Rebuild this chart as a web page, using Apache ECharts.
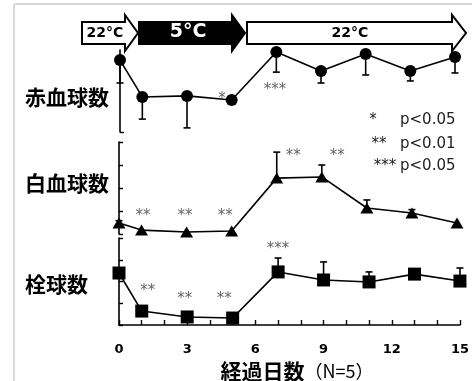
<!DOCTYPE html>
<html><head><meta charset="utf-8">
<script src="https://cdn.jsdelivr.net/npm/echarts@6/dist/echarts.min.js"></script>
<style>html,body{margin:0;padding:0;background:#fff}#c{width:472px;height:381px}</style>
</head><body><div id="c"></div>
<script>
// ---- data ----
var days = [0, 1, 3, 5, 7, 9, 11, 13, 15];
var xTickLabels = [0, 3, 6, 9, 12, 15];
var rbcValues = [3.51, 1.71, 1.76, 1.56, 3.90, 2.98, 3.80, 2.98, 3.66];
var rbcErrors = [1.12, 1.08, 1.56, 0.10, 0.98, 0.59, 1.02, 0.49, 0.78];   // drawn downward
var wbcValues = [0.48, 0.17, 0.09, 0.13, 2.43, 2.48, 1.13, 0.91, 0.48];
var wbcErrors = [0.10, 0.00, 0.00, 0.00, 1.13, 0.52, 0.35, 0.15, 0.00];   // drawn upward
var pltValues = [2.39, 0.64, 0.37, 0.32, 2.44, 2.07, 1.98, 2.34, 2.02];
var pltErrors = [0.00, 0.10, 0.00, 0.00, 0.64, 0.83, 0.46, 0.00, 0.60];   // drawn upward
var rbcMarks = [{x: 4.57, y: 1.61, t: '*'}, {x: 6.94, y: 2.05, t: '***'}];
var wbcMarks = [{x: 1.07, y: 0.78, t: '**'}, {x: 2.93, y: 0.78, t: '**'}, {x: 4.71, y: 0.78, t: '**'},
                {x: 7.73, y: 3.39, t: '**'}, {x: 9.69, y: 3.39, t: '**'}];
var pltMarks = [{x: 1.27, y: 1.56, t: '**'}, {x: 2.89, y: 1.2, t: '**'}, {x: 4.63, y: 1.2, t: '**'},
                {x: 7.0, y: 3.49, t: '***'}];
var panelTitles = ['赤血球数', '白血球数', '栓球数'];
var phaseLabels = ['22°C', '5°C', '22°C'];
var legendStars = ['*', '**', '***'];
var legendTexts = ['p<0.05', 'p<0.01', 'p<0.05'];

function pairs(vals){ return days.map(function(d,i){ return [d, vals[i]]; }); }
function errData(vals, errs){ return days.map(function(d,i){ return [d, vals[i], errs[i]]; }); }

function errRender(dir){
  return function(params, api){
    var x = api.value(0), y = api.value(1), e = api.value(2);
    if (!e) return null;
    var p0 = api.coord([x, y]);
    var p1 = api.coord([x, y + dir * e]);
    var hw = 3.5;
    return {type: 'group', children: [
      {type: 'line', shape: {x1: p0[0], y1: p0[1], x2: p1[0], y2: p1[1]}, style: {stroke: '#000', lineWidth: 1.6}},
      {type: 'line', shape: {x1: p1[0]-hw, y1: p1[1], x2: p1[0]+hw, y2: p1[1]}, style: {stroke: '#000', lineWidth: 1.6}}
    ]};
  };
}
function markRender(arr){
  return function(params, api){
    var p = api.coord([api.value(0), api.value(1)]);
    return {type: 'text', x: p[0], y: p[1], style: {text: arr[params.dataIndex].t, fill: '#666',
      font: '15px "DejaVu Sans"', align: 'center', verticalAlign: 'middle'}};
  };
}

var grids = [
  {left: 120, width: 335, top: 50, height: 82},
  {left: 119, width: 338, top: 142, height: 92},
  {left: 119, width: 343, top: 238, height: 87}
];
var axLine = {show: true, lineStyle: {color: '#000', width: 1.6}};
var xAxes = [0,1,2].map(function(i){
  var base = {gridIndex: i, type: 'value', min: 0, max: 15, interval: 1, splitLine: {show: false}};
  if (i < 2) { base.show = false; return base; }
  base.axisLine = axLine;
  base.axisTick = {show: true, inside: true, length: 5, lineStyle: {color: '#000', width: 1.4}};
  base.axisLabel = {show: true, customValues: xTickLabels, margin: 18, color: '#000',
    fontFamily: 'DejaVu Sans', fontWeight: 'bold', fontSize: 13};
  return base;
});
var yAxes = [0,1,2].map(function(i){
  var a = {gridIndex: i, type: 'value', min: 0, max: 4, interval: 1, axisLine: axLine,
    axisLabel: {show: false}, splitLine: {show: false},
    axisTick: {show: true, inside: true, length: 4, lineStyle: {color: '#000', width: 1.4}}};
  if (i === 0) a.axisTick.customValues = [0];
  return a;
});

var sets = [
  {v: rbcValues, e: rbcErrors, dir: -1, sym: 'circle', size: 12, marks: rbcMarks},
  {v: wbcValues, e: wbcErrors, dir: 1, sym: 'triangle', size: [13, 11], marks: wbcMarks},
  {v: pltValues, e: pltErrors, dir: 1, sym: 'rect', size: 13, marks: pltMarks}
];
var series = [];
sets.forEach(function(s, i){
  series.push({type: 'custom', xAxisIndex: i, yAxisIndex: i, renderItem: errRender(s.dir),
    data: errData(s.v, s.e), clip: false, z: 1});
  series.push({type: 'line', xAxisIndex: i, yAxisIndex: i, data: pairs(s.v), symbol: s.sym,
    symbolSize: s.size, showSymbol: true, color: '#000', itemStyle: {color: '#000'},
    lineStyle: {color: '#000', width: 1.6}, z: 3});
  series.push({type: 'custom', xAxisIndex: i, yAxisIndex: i, renderItem: markRender(s.marks),
    data: s.marks.map(function(m){ return [m.x, m.y]; }), clip: false, z: 4});
});

function arrow(x0, xb, xt, fill){
  var yt = 22, yb = 44, ht = 15, hb = 51, ym = 33;
  return {type: 'polygon', shape: {points: [[x0,yt],[xb,yt],[xb,ht],[xt,ym],[xb,hb],[xb,yb],[x0,yb]]},
    style: {fill: fill, stroke: '#000', lineWidth: 2}};
}
var graphics = [
  {type: 'line', shape: {x1: 14, y1: 4, x2: 14, y2: 381}, style: {stroke: '#d9d9d9', lineWidth: 2}},
  {type: 'line', shape: {x1: 14, y1: 4, x2: 472, y2: 4}, style: {stroke: '#d9d9d9', lineWidth: 2}},
  arrow(82, 125, 138, '#fff'),
  arrow(139, 232, 245, '#000'),
  arrow(247, 452, 466, '#fff'),
  {type: 'text', x: 105, y: 33, style: {text: phaseLabels[0], fill: '#000', font: 'bold 14px "DejaVu Sans"', align: 'center', verticalAlign: 'middle'}},
  {type: 'text', x: 188, y: 32, style: {text: phaseLabels[1], fill: '#fff', font: 'bold 19px "DejaVu Sans"', align: 'center', verticalAlign: 'middle'}},
  {type: 'text', x: 350, y: 33, style: {text: phaseLabels[2], fill: '#000', font: 'bold 14px "DejaVu Sans"', align: 'center', verticalAlign: 'middle'}}
];
var titleY = [97, 183, 284];
panelTitles.forEach(function(t, i){
  graphics.push({type: 'text', x: 25, y: titleY[i], style: {text: t, fill: '#000',
    font: 'bold 21px "Noto Sans CJK JP"', align: 'left', verticalAlign: 'middle'}});
});
var legY = [120, 144, 166];
var legX = [373, 379, 385];
legendStars.forEach(function(s, i){
  graphics.push({type: 'text', x: legX[i], y: legY[i], style: {text: s, fill: '#222', font: '15px "DejaVu Sans"', align: 'center', verticalAlign: 'middle'}});
  graphics.push({type: 'text', x: 400, y: legY[i], style: {text: legendTexts[i], fill: '#222', font: '15px "DejaVu Sans"', align: 'left', verticalAlign: 'middle'}});
});
graphics.push({type: 'text', x: 297, y: 371, style: {
  text: '{a|経過日数}{b|（N=5）}', align: 'center', verticalAlign: 'middle',
  rich: {a: {font: 'bold 21px "Noto Sans CJK JP"', fill: '#000'}, b: {font: '18px "Noto Sans CJK JP"', fill: '#000'}}}});

var chart = echarts.init(document.getElementById('c'), null, {renderer: 'canvas'});
chart.setOption({animation: false, backgroundColor: '#fff', grid: grids, xAxis: xAxes, yAxis: yAxes,
  series: series, graphic: graphics});
</script></body></html>
